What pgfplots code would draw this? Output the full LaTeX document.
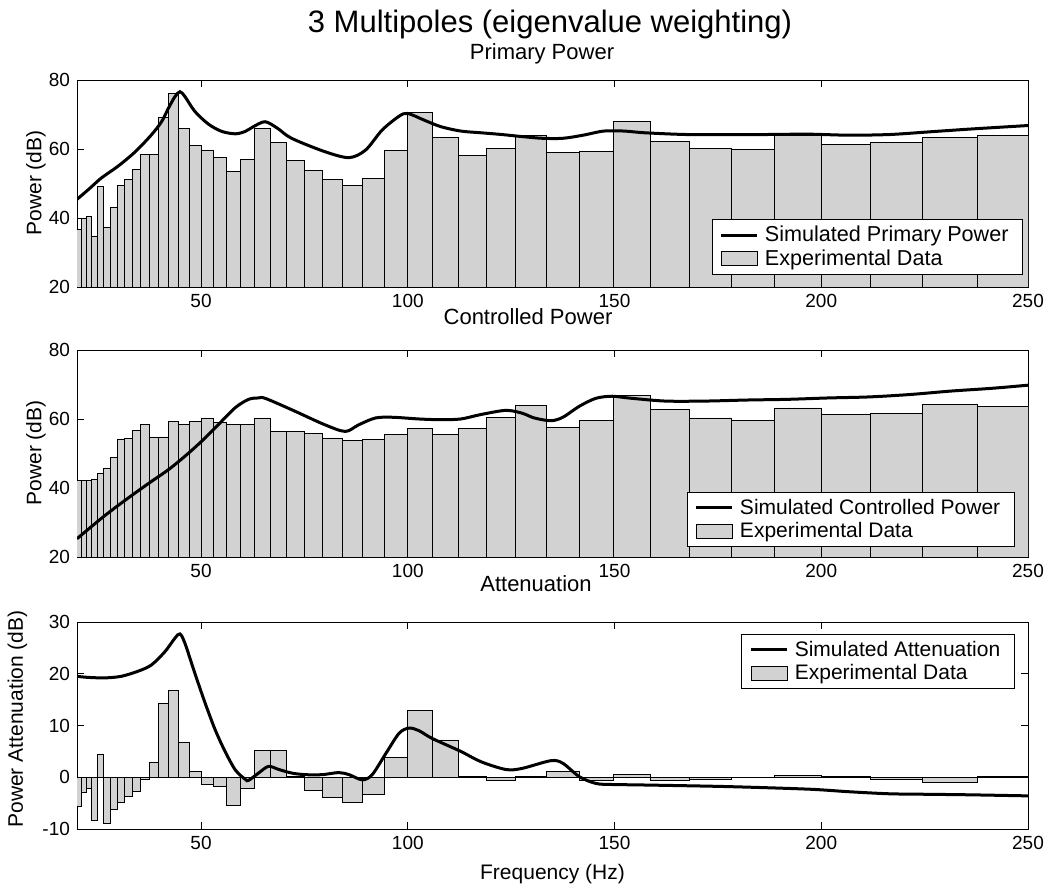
\documentclass[border=0pt]{standalone}
\usepackage{fontspec}
\setmainfont{Liberation Sans}
\usepackage{pgfplots}
\pgfplotsset{compat=1.18}
\definecolor{barfill}{RGB}{210,210,210}
\pgfplotsset{
  panel/.style={
    scale only axis, width=475.5pt, height=103.5pt,
    xmin=20, xmax=250, xtick={50,100,150,200,250},
    tick align=inside, major tick length=3.5pt,
    tick style={black, thin},
    axis line style={black, thin},
    ticklabel style={font=\fontsize{9.5}{11}\selectfont},
    xticklabel style={inner sep=1pt, yshift=-2.2pt},
    /pgf/number format/assume math mode=true,
    legend style={font=\fontsize{10.5}{12.5}\selectfont, draw=black, thin,
      inner xsep=4pt, inner ysep=2pt, row sep=0pt,
      nodes={inner xsep=3pt, inner ysep=1.2pt}},
    legend cell align=left,
    reverse legend=true,
  },
  bars/.style={ybar interval, fill=barfill, draw=black, line width=0.4pt,
    legend image code/.code={\draw[fill=barfill, draw=black, line width=0.4pt] (0pt,-3.5pt) rectangle (18pt,3.5pt);}},
  curve/.style={black, line width=1.5pt, smooth, no markers,
    legend image code/.code={\draw[black, line width=1.5pt] (0pt,0pt) -- (18pt,0pt);}},
}
\begin{document}
\begin{tikzpicture}
% ---------------- Primary Power ----------------
\begin{axis}[panel, at={(38.5pt,299.5pt)}, anchor=south west,
  ymin=20, ymax=80, ytick={20,40,60,80},
  legend style={at={(0.9947,0.058)}, anchor=south east, font=\fontsize{10.8}{12.5}\selectfont}]
\addplot[bars] coordinates {
(19.84,36.7) (21.02,39.8) (22.27,40.4) (23.60,34.8) (25.00,49.2) (26.49,37.2) (28.06,43.0) (29.73,49.5)
(31.50,51.1) (33.37,54.2) (35.36,58.4) (37.46,58.4) (39.69,69.2) (42.04,76.2) (44.54,65.9) (47.19,61.1)
(50.00,59.5) (52.97,57.5) (56.12,53.5) (59.46,56.9) (63.00,65.9) (66.74,62.0) (70.71,56.8) (74.92,53.8)
(79.37,51.2) (84.09,49.4) (89.09,51.4) (94.39,59.7) (100.00,70.6) (105.95,63.4) (112.25,58.1) (118.92,60.2)
(125.99,63.8) (133.48,59.1) (141.42,59.4) (149.83,67.9) (158.74,62.3) (168.18,60.2) (178.18,59.9) (188.78,63.8)
(200.00,61.4) (211.89,61.9) (224.49,63.4) (237.84,63.8) (251.98,63.8)};
\addlegendentry{Experimental Data}
\addplot[curve] coordinates {
(20,45.4) (23,48.5) (25.9,51.6) (29.9,55.0) (34.0,59.1) (38.0,64.1) (40.5,68.0) (42.1,71.8) (43.7,75.2)
(44.9,76.6) (46.1,75.2) (48.5,70.9) (51.8,67.2) (55.0,65.1) (58.3,64.4) (60.7,65.1) (62.7,66.5) (65.5,67.9)
(68.5,66.0) (71.9,63.1) (80.0,59.2) (85.8,57.5) (89.8,59.7) (93.8,65.5) (97.9,69.5) (100,70.3) (103.9,68.4)
(107.9,66.5) (112.8,65.2) (117.7,64.7) (122.7,64.2) (127.6,63.6) (132.6,63.1) (137.5,63.1) (142.4,64.0)
(147.4,65.2) (152.3,65.2) (157.3,64.7) (167.2,64.2) (177,64.2) (186.9,64.2) (196.8,64.3) (206.7,64.0)
(216.6,64.2) (226.5,65.0) (236.3,65.8) (250,66.8)};
\addlegendentry{Simulated Primary Power}
\end{axis}
% ---------------- Controlled Power ----------------
\begin{axis}[panel, at={(38.5pt,164.5pt)}, anchor=south west,
  ymin=20, ymax=80, ytick={20,40,60,80},
  legend style={at={(0.986,0.049)}, anchor=south east}]
\addplot[bars] coordinates {
(19.84,42.1) (21.02,42.3) (22.27,42.1) (23.60,42.6) (25.00,44.3) (26.49,45.8) (28.06,48.9) (29.73,54.0)
(31.50,54.4) (33.37,56.6) (35.36,58.5) (37.46,54.8) (39.69,54.8) (42.04,59.4) (44.54,58.5) (47.19,59.4)
(50.00,60.3) (52.97,58.9) (56.12,58.3) (59.46,58.5) (63.00,60.3) (66.74,56.3) (70.71,56.3) (74.92,55.8)
(79.37,54.5) (84.09,53.7) (89.09,54.1) (94.39,55.4) (100.00,57.3) (105.95,55.6) (112.25,57.3) (118.92,60.4)
(125.99,63.8) (133.48,57.7) (141.42,59.7) (149.83,66.9) (158.74,62.7) (168.18,60.3) (178.18,59.7) (188.78,63.2)
(200.00,61.2) (211.89,61.6) (224.49,64.1) (237.84,63.7) (251.98,63.7)};
\addlegendentry{Experimental Data}
\addplot[curve] coordinates {
(20,25.3) (25.9,31.2) (29.9,34.9) (34.0,38.5) (38.0,41.9) (42.1,45.3) (46.1,49.2) (50.1,53.5) (54.2,58.4)
(58.3,63.3) (61.5,65.7) (63.9,66.1) (65.5,66.0) (71.9,62.7) (80.0,58.3) (84.9,56.4) (88.1,58.3) (92.2,60.3)
(96.4,60.5) (102.8,60.0) (107.9,59.8) (112.8,60.0) (117.7,61.3) (123.7,62.5) (127.6,61.7) (130.6,60.3)
(134.6,59.5) (137.5,60.5) (141.5,63.7) (145.5,66.0) (149.4,66.6) (153.3,66.1) (162.2,65.2) (172.1,65.2)
(182,65.5) (191.9,65.7) (201.7,66.1) (211.6,66.4) (221.5,67.1) (231.4,68.1) (241.3,68.9) (250,69.8)};
\addlegendentry{Simulated Controlled Power}
\end{axis}
% ---------------- Attenuation ----------------
\begin{axis}[panel, at={(38.5pt,28.5pt)}, anchor=south west,
  ymin=-10, ymax=30, ytick={-10,0,10,20,30},
  extra y ticks={0}, extra y tick labels={}, extra y tick style={grid=major, major grid style={black, thin}, major tick length=0pt},
  legend style={at={(0.986,0.942)}, anchor=north east}]
\addplot[bars] coordinates {
(19.84,-5.7) (21.02,-3.0) (22.27,-2.1) (23.60,-8.4) (25.00,4.5) (26.49,-8.9) (28.06,-6.3) (29.73,-4.9)
(31.50,-3.7) (33.37,-2.8) (35.36,-0.5) (37.46,2.9) (39.69,14.3) (42.04,16.8) (44.54,6.8) (47.19,1.2)
(50.00,-1.3) (52.97,-1.8) (56.12,-5.4) (59.46,-2.1) (63.00,5.1) (66.74,5.2) (70.71,0.1) (74.92,-2.6)
(79.37,-3.8) (84.09,-4.8) (89.09,-3.4) (94.39,3.9) (100.00,12.9) (105.95,7.2) (112.25,0.2) (118.92,-0.6)
(125.99,0.1) (133.48,1.1) (141.42,-0.7) (149.83,0.5) (158.74,-0.7) (168.18,-0.5) (178.18,-0.1) (188.78,0.3)
(200.00,0.1) (211.89,-0.4) (224.49,-1.0) (237.84,0.1) (251.98,0.1)};
\addlegendentry{Experimental Data}
\addplot[curve] coordinates {
(20,19.5) (22.6,19.3) (26.7,19.2) (30.7,19.5) (34.8,20.5) (38.0,21.7) (41.3,24.3) (43.7,26.9) (44.9,27.7)
(46.1,25.9) (48.5,20.1) (51.0,14.3) (53.4,9.2) (55.8,5.0) (58.3,1.4) (60.7,-0.4) (61.5,-0.6) (63.9,0.8)
(66.3,2.1) (68.8,1.5) (72.0,0.8) (75.2,0.5) (79.3,0.5) (83.3,0.9) (85.8,0.5) (89.0,-0.5) (91.4,0.5)
(94.7,4.6) (97.9,8.5) (100.3,9.5) (102.7,9.0) (105.9,7.5) (112.8,5.0) (117.7,3.0) (123.7,1.5) (127.6,1.7)
(134.6,3.2) (137.5,2.7) (141.5,0.1) (145.5,-1.2) (149.4,-1.4) (157.3,-1.5) (177,-1.8) (196.8,-2.3)
(206.7,-2.8) (216.6,-3.2) (226.5,-3.3) (236.3,-3.4) (250,-3.6)};
\addlegendentry{Simulated Attenuation}
\end{axis}
% ---------------- titles and labels ----------------
\node[anchor=base, inner sep=0pt, font=\fontsize{15.5}{18}\selectfont] at (275pt,426.5pt) {3 Multipoles (eigenvalue weighting)};
\node[anchor=base, inner sep=0pt, font=\fontsize{11}{13}\selectfont] at (271pt,413pt) {Primary Power};
\node[anchor=base, inner sep=0pt, font=\fontsize{11}{13}\selectfont] at (264pt,280.5pt) {Controlled Power};
\node[anchor=base, inner sep=0pt, font=\fontsize{11}{13}\selectfont] at (268pt,147pt) {Attenuation};
\node[anchor=base, inner sep=0pt, font=\fontsize{10.5}{12}\selectfont] at (276.25pt,3pt) {Frequency (Hz)};
\node[rotate=90, inner sep=0pt, font=\fontsize{10.5}{12}\selectfont] at (18pt,351.5pt) {Power (dB)};
\node[rotate=90, inner sep=0pt, font=\fontsize{10.5}{12}\selectfont] at (18pt,216.5pt) {Power (dB)};
\node[rotate=90, inner sep=0pt, font=\fontsize{10.5}{12}\selectfont] at (8.75pt,83.5pt) {Power Attenuation (dB)};
\pgfresetboundingbox
\path[use as bounding box] (0,0) rectangle (523.5pt,443pt);
\end{tikzpicture}
\end{document}
